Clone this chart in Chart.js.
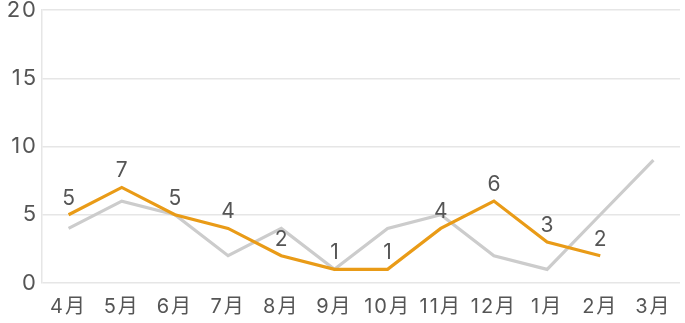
<!DOCTYPE html>
<html>
<head>
<meta charset="utf-8">
<script src="https://cdn.jsdelivr.net/npm/chart.js@4"></script>
<style>
  html, body { margin: 0; padding: 0; background: #fff; }
  #wrap { width: 685px; height: 323px; }
</style>
</head>
<body>
<div id="wrap"><canvas id="my_chart"></canvas></div>
<script>
const months = ['4月', '5月', '6月', '7月', '8月', '9月', '10月', '11月', '12月', '1月', '2月', '3月'];
const this_year = [5, 7, 5, 4, 2, 1, 1, 4, 6, 3, 2, null];
const last_year = [4, 6, 5, 2, 4, 1, 4, 5, 2, 1, 5, 9];
const y_ticks = [0, 5, 10, 15, 20];

const font_family = 'Inter, "Noto Sans CJK JP", sans-serif';

// a little letter spacing on every text, the original font is wide
const spacing = {
    id: 'spacing',
    beforeDraw(chart) { chart.ctx.letterSpacing = '2px'; }
};

// draw the value above each point of the first dataset
const point_labels = {
    id: 'point_labels',
    afterDatasetsDraw(chart) {
        const ctx = chart.ctx;
        const meta = chart.getDatasetMeta(0);
        ctx.save();
        ctx.letterSpacing = '0px';
        ctx.fillStyle = '#555';
        ctx.font = '21px ' + font_family;
        ctx.textAlign = 'center';
        ctx.textBaseline = 'bottom';
        meta.data.forEach((pt, i) => {
            const v = chart.data.datasets[0].data[i];
            if (v === null) return;
            ctx.fillText(v, pt.x, pt.y - 6);
        });
        ctx.restore();
    }
};

new Chart(document.getElementById('my_chart'), {
    type: 'line',
    data: {
        labels: months,
        datasets: [
            {
                label: '今年',
                data: this_year,
                borderColor: '#e99b17',
                borderWidth: 3.2,
                pointRadius: 0,
                tension: 0
            },
            {
                label: '昨年',
                data: last_year,
                borderColor: '#cccccc',
                borderWidth: 3.2,
                pointRadius: 0,
                tension: 0
            }
        ]
    },
    options: {
        animation: false,
        responsive: true,
        maintainAspectRatio: false,
        layout: { padding: { top: 0, right: 5, left: 0, bottom: 0 } },
        plugins: {
            legend: { display: false },
            tooltip: { enabled: false }
        },
        scales: {
            x: {
                offset: true,
                grid: { display: false, drawTicks: false },
                border: { display: false },
                afterFit: (scale) => { scale.height = 40; scale.paddingLeft = 0; scale.paddingRight = 0; },
                ticks: {
                    color: '#555',
                    padding: 12,
                    maxRotation: 0,
                    autoSkip: false,
                    font: { family: font_family, size: 20 }
                }
            },
            y: {
                min: 0,
                max: 20,
                afterBuildTicks: (axis) => { axis.ticks = y_ticks.map(v => ({ value: v })); },
                afterFit: (scale) => { scale.width = 42; scale.paddingTop = 10; scale.paddingBottom = 0; },
                grid: { color: '#e6e6e6', lineWidth: 1.5, drawTicks: false },
                border: { display: true, color: '#e6e6e6', width: 1.5 },
                ticks: {
                    color: '#555',
                    padding: 4,
                    font: { family: font_family, size: 22 }
                }
            }
        }
    },
    plugins: [spacing, point_labels]
});
</script>
</body>
</html>
